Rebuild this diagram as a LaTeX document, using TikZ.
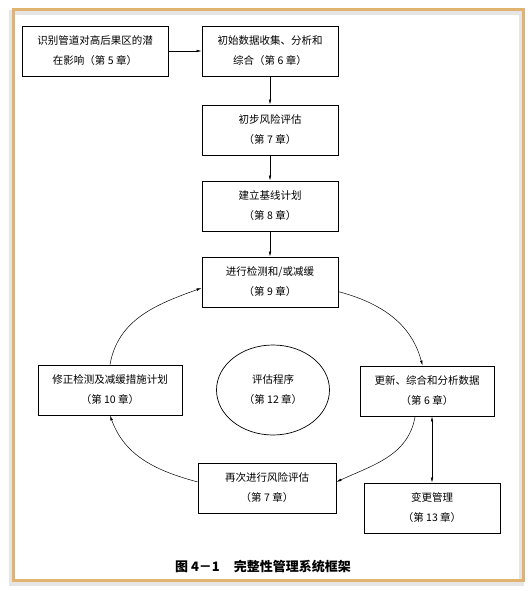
\documentclass[tikz,border=0pt]{standalone}
\usepackage{fontspec}
\setmainfont{Noto Sans CJK SC}
\usetikzlibrary{arrows.meta,shapes.geometric}
\definecolor{framecol}{RGB}{226,178,112}

\begin{document}
\begin{tikzpicture}[x=1pt,y=-1pt,
		>={Latex[length=5pt,width=2.6pt]},
		every node/.style = {font=\fontsize{10.5}{20}\selectfont, align=center},
		box/.style = {draw, line width=0.9pt, minimum height=50pt, inner sep=2pt},
		oval/.style = {draw, ellipse, line width=0.7pt, minimum width=113pt, minimum height=90pt, inner sep=0pt},
		link/.style = {->, line width=0.5pt}
		]
		\useasboundingbox (0,0) rectangle (531,591);
		\draw[gray!20, line width=5pt] (11,13) rectangle (521,583);
		\draw[framecol, line width=3pt] (13,10) rectangle (523,580);
		\node[box, minimum width=146pt] (impact) at (95,51) {识别管道对高后果区的潜\\在影响（第 5 章）};
		\node[box, minimum width=136pt] (collect) at (270,51) {初始数据收集、分析和\\综合（第 6 章）};
		\node[box, minimum width=136pt] (prelim) at (270,130) {初步风险评估\\（第 7 章）};
		\node[box, minimum width=136pt] (baseline) at (270,206) {建立基线计划\\（第 8 章）};
		\node[box, minimum width=136pt] (inspect) at (270,282) {进行检测和/或减缓\\（第 9 章）};
		\node[box, minimum width=144pt] (revise) at (110,390) {修正检测及减缓措施计划\\（第 10 章）};
		\node[oval] (evalproc) at (273,390) {评估程序\\（第 12 章）};
		\node[box, minimum width=134pt] (update) at (427,391) {更新、综合和分析数据\\（第 6 章）};
		\node[box, minimum width=138pt] (reassess) at (267,488) {再次进行风险评估\\（第 7 章）};
		\node[box, minimum width=136pt] (change) at (432,508) {变更管理\\（第 13 章）};
		\node[font=\fontsize{13}{15}\selectfont\bfseries] (caption) at (263,567) {图 4－1\hspace{14pt}完整性管理系统框架};
		\draw[link] (impact) -- (collect);
		\draw[link] (collect) -- (prelim);
		\draw[link] (prelim) -- (baseline);
		\draw[link] (baseline) -- (inspect);
		\draw[link] (inspect.-8) to[out=-15, in=105] (update.100);
		\draw[link] (update.-115) to[out=-100, in=25] (reassess.5);
		\draw[link] (reassess.175) to[out=165, in=-70] (revise.south);
		\draw[link] (revise.north) to[out=80, in=200] (inspect.185);
		\draw[<->, line width=0.5pt] (update.south -| change.north) -- (change.north);
	\end{tikzpicture}
\end{document}
